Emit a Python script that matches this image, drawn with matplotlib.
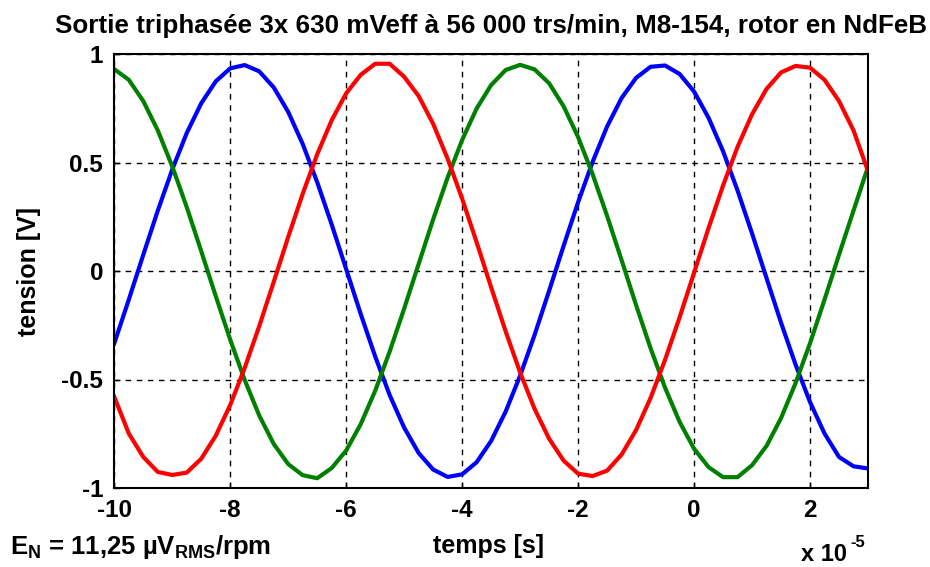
import matplotlib
matplotlib.use("Agg")
import matplotlib.pyplot as plt

plt.rcParams['font.family'] = ['Liberation Sans', 'DejaVu Sans']
plt.rcParams['mathtext.fontset'] = 'custom'
plt.rcParams['mathtext.rm'] = 'Liberation Sans:bold'
plt.rcParams['mathtext.bf'] = 'Liberation Sans:bold'
plt.rcParams['mathtext.it'] = 'Liberation Sans:bold'

# time axis in units of 1e-5 s
t = [-10 + 0.25 * k for k in range(53)]

blue = [-0.333, -0.132, 0.075, 0.278, 0.468, 0.636, 0.773, 0.874, 0.934, 0.949,
        0.920, 0.846, 0.733, 0.585, 0.409, 0.214, 0.008, -0.198, -0.394, -0.572,
        -0.722, -0.839, -0.915, -0.949, -0.937, -0.881, -0.783, -0.648, -0.482, -0.294,
        -0.091, 0.116, 0.317, 0.503, 0.666, 0.797, 0.890, 0.941, 0.947, 0.908,
        0.827, 0.706, 0.552, 0.371, 0.173, -0.033, -0.238, -0.431, -0.604, -0.749,
        -0.857, -0.900, -0.910]

red = [-0.580, -0.749, -0.857, -0.926, -0.940, -0.929, -0.865, -0.759, -0.617, -0.446,
       -0.254, -0.050, 0.157, 0.356, 0.538, 0.695, 0.819, 0.904, 0.955, 0.955,
       0.895, 0.806, 0.678, 0.517, 0.333, 0.132, -0.075, -0.278, -0.468, -0.636,
       -0.773, -0.874, -0.934, -0.945, -0.920, -0.846, -0.733, -0.585, -0.409, -0.214,
       -0.008, 0.198, 0.394, 0.572, 0.722, 0.839, 0.915, 0.945, 0.937, 0.881,
       0.783, 0.648, 0.460]

green = [0.930, 0.881, 0.783, 0.648, 0.482, 0.294, 0.091, -0.116, -0.317, -0.503,
         -0.666, -0.797, -0.890, -0.941, -0.955, -0.908, -0.827, -0.706, -0.552, -0.371,
         -0.173, 0.033, 0.238, 0.431, 0.604, 0.749, 0.857, 0.926, 0.950, 0.929,
         0.865, 0.759, 0.617, 0.446, 0.254, 0.050, -0.157, -0.356, -0.538, -0.695,
         -0.819, -0.904, -0.950, -0.950, -0.895, -0.806, -0.678, -0.517, -0.333, -0.132,
         0.075, 0.278, 0.480]

xticks = [-10, -8, -6, -4, -2, 0, 2]
yticks = [-1, -0.5, 0, 0.5, 1]
ytick_labels = ['-1', '-0.5', '0', '0.5', '1']

title = "Sortie triphasée 3x 630 mVeff à 56 000 trs/min, M8-154, rotor en NdFeB"

fig = plt.figure(figsize=(9.3, 5.67), dpi=100)
ax = fig.add_axes([114.3 / 930, 1 - 488 / 567, (868 - 114.3) / 930, (488 - 54) / 567])

lw = 3.0
ax.plot(t, blue, color=(0, 0, 1), lw=lw, solid_joinstyle='round')
ax.plot(t, green, color=(0, 0.5, 0), lw=lw, solid_joinstyle='round')
ax.plot(t, red, color=(1, 0, 0), lw=lw, solid_joinstyle='round')

ax.set_xlim(-10, 3)
ax.set_ylim(-1, 1)
ax.set_xticks(xticks)
ax.set_xticklabels([str(v) for v in xticks])
ax.set_yticks(yticks)
ax.set_yticklabels(ytick_labels)
ax.grid(True, color='black', linestyle=(0, (4, 4)), linewidth=1.0)
ax.tick_params(direction='in', length=4, width=1, pad=8, labelsize=17.5)
for lab in ax.get_xticklabels() + ax.get_yticklabels():
    lab.set_fontweight('bold')
for sp in ax.spines.values():
    sp.set_linewidth(1.5)

ax.set_title(title, fontsize=18.7, fontweight='bold', pad=15)
ax.set_xlabel('temps [s]', fontsize=18, fontweight='bold')
ax.set_ylabel('tension [V]', fontsize=18, fontweight='bold')
ax.xaxis.set_label_coords(0.496, -0.106)
ax.yaxis.set_label_coords(-0.097, 0.498)

fig.text(801 / 930, 1 - 561 / 567, 'x 10', fontsize=17, fontweight='bold',
         ha='left', va='baseline')
fig.text(850 / 930, 1 - 547 / 567, '-5', fontsize=12, fontweight='bold',
         ha='left', va='baseline')
fig.text(10 / 930, 1 - 554 / 567, r'E$_\mathrm{N}$ = 11,25 µV$_\mathrm{RMS}$/rpm',
         fontsize=18.5, fontweight='bold', ha='left', va='baseline')

fig.savefig('out.png', dpi=100)
